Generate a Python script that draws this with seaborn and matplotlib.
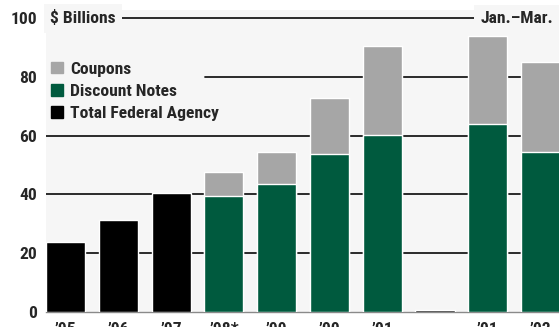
import numpy as np
import pandas as pd
import matplotlib
matplotlib.use("Agg")
import matplotlib.pyplot as plt
from matplotlib import font_manager
from matplotlib.patches import Patch
import seaborn as sns

# Category keys (unique) and the labels shown under each bar
categories = ["1995", "1996", "1997", "1998", "1999", "2000", "2001", "gap", "2001Q1", "2002Q1"]
tick_labels = ["\u201995", "\u201996", "\u201997", "\u201998*", "\u201999", "\u201900", "\u201901", "", "\u201901", "\u201902"]

# $ billions
total_agency = [23.7, 31.2, 40.4, np.nan, np.nan, np.nan, np.nan, 0.35, np.nan, np.nan]
discount_notes = [np.nan, np.nan, np.nan, 39.4, 43.5, 53.8, 60.2, np.nan, 64.0, 54.5]
coupons = [np.nan, np.nan, np.nan, 8.2, 10.9, 19.1, 30.4, np.nan, 30.0, 30.7]

df = pd.DataFrame({
    "period": categories,
    "total_agency": total_agency,
    "discount_notes": discount_notes,
    "coupons": coupons,
})
df["stack_top"] = df["discount_notes"] + df["coupons"]

sns.set_theme(style="white")


def pick_font(names):
    for n in names:
        try:
            font_manager.findfont(font_manager.FontProperties(family=n, weight="bold"),
                                  fallback_to_default=False)
            return n
        except Exception:
            continue
    return "DejaVu Sans"


font = pick_font(["Roboto Condensed", "Archivo Narrow", "Liberation Sans"])
plt.rcParams["font.family"] = [font, "DejaVu Sans"]
plt.rcParams["font.weight"] = "bold"

GRAY = "#a6a6a6"
GREEN = "#005a3e"
BLACK = "#000000"
PANEL = "#f6f6f6"
FS = 12.6

fig = plt.figure(figsize=(5.59, 3.27), dpi=100, facecolor="white")
W, H = 559, 327
ax = fig.add_axes([46 / W, (H - 311.5) / H, 513 / W, 301.8 / H])
ax.set_facecolor(PANEL)

bar_w = 0.74
sns.barplot(data=df, x="period", y="stack_top", order=categories, color=GRAY,
            saturation=1, width=bar_w, errorbar=None, ax=ax, zorder=3)
sns.barplot(data=df, x="period", y="discount_notes", order=categories, color=GREEN,
            saturation=1, width=bar_w, errorbar=None, ax=ax, zorder=3)
sns.barplot(data=df, x="period", y="total_agency", order=categories, color=BLACK,
            saturation=1, width=bar_w, errorbar=None, ax=ax, zorder=3)

ax.set_xlim(-0.37, 9.35)
ax.set_ylim(0, 103)

# horizontal rules behind the bars; the 80 rule starts right of the key
rule_start = {20: 0.0, 40: 0.0, 60: 0.0, 80: 0.31, 100: 0.0}
for yv, x0 in rule_start.items():
    ax.axhline(yv, xmin=x0, color="#1a1a1a", lw=1.3, zorder=1)

ax.set_yticks([0, 20, 40, 60, 80, 100])
ax.set_yticklabels(["0", "20", "40", "60", "80", "100"], fontsize=FS, fontweight="bold")
ax.set_xticks(range(len(categories)))
ax.set_xticklabels(tick_labels, fontsize=FS, fontweight="bold")
ax.tick_params(axis="y", length=0, pad=6.5)
ax.tick_params(axis="x", length=0, pad=7.5)
ax.set_xlabel("")
ax.set_ylabel("")

for s in ["top", "right", "left"]:
    ax.spines[s].set_visible(False)
ax.spines["bottom"].set_color("#8a8a8a")
ax.spines["bottom"].set_linewidth(1.0)

trans = ax.get_yaxis_transform()
ax.text(4 / 513, 100, "$ Billions", transform=trans, ha="left", va="center",
        fontsize=FS, fontweight="bold", zorder=4,
        bbox=dict(boxstyle="square,pad=0.35", fc=PANEL, ec="none"))
ax.text(507 / 513, 100, "Jan.\u2013Mar.", transform=trans, ha="right", va="center",
        fontsize=FS, fontweight="bold", zorder=4,
        bbox=dict(boxstyle="square,pad=0.35", fc=PANEL, ec="none"))

handles = [Patch(color=GRAY, label="Coupons"),
           Patch(color=GREEN, label="Discount Notes"),
           Patch(color=BLACK, label="Total Federal Agency")]
leg = ax.legend(handles=handles, loc="upper left", bbox_to_anchor=(0.0, 0.845),
                frameon=False, prop=dict(size=FS, weight="bold"),
                handlelength=0.65, handleheight=0.65, handletextpad=0.45,
                labelspacing=0.42, borderpad=0.3, borderaxespad=0)
leg.set_zorder(5)

fig.savefig("out.png", dpi=100, facecolor="white")
